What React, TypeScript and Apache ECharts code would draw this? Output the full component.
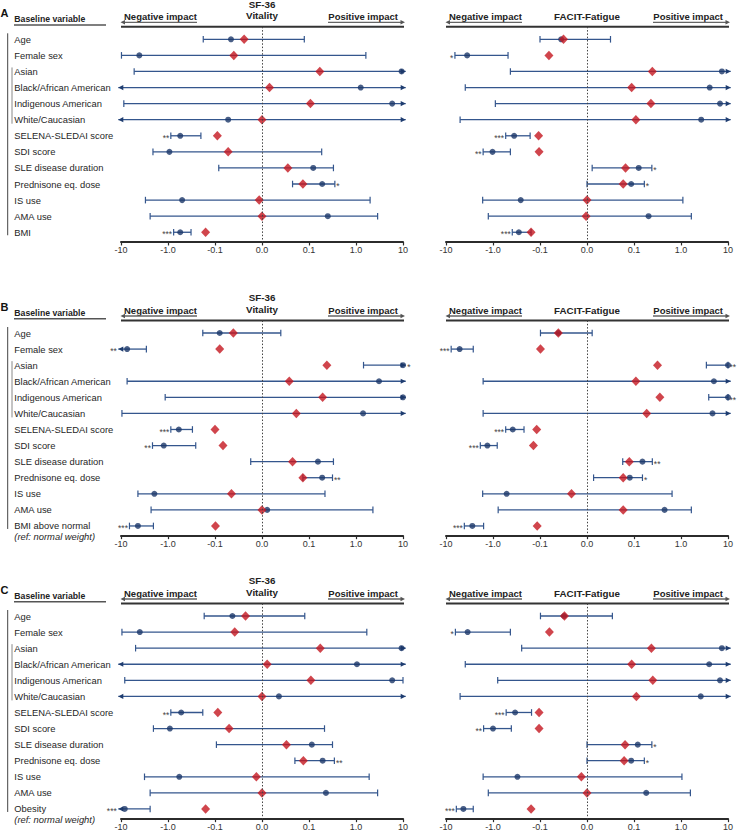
import React, { useEffect, useRef } from "react";
import * as echarts from "echarts";

// ---------- DATA ----------
// x positions are on the chart's symmetric log scale (axis units: -3 = -10, -2 = -1.0, -1 = -0.1, 0 = 0.0, 1 = 0.1, 2 = 1.0, 3 = 10)
// values beyond +/-3 mean the interval runs off the axis (drawn as an arrow)
const tickValues = [-3, -2, -1, 0, 1, 2, 3];
const tickLabels = ["-10", "-1.0", "-0.1", "0.0", "0.1", "1.0", "10"];

const commonVariables = [
  "Age",
  "Female sex",
  "Asian",
  "Black/African American",
  "Indigenous American",
  "White/Caucasian",
  "SELENA-SLEDAI score",
  "SDI score",
  "SLE disease duration",
  "Prednisone eq. dose",
  "IS use",
  "AMA use",
];
const lastVariableA = "BMI";
const lastVariableB = "BMI above normal";
const lastVariableC = "Obesity";
const refNote = "(ref: normal weight)";

// Panel A - SF-36 Vitality
const aVitEst = [-0.66, -2.61, 2.97, 2.10, 2.77, -0.72, -1.74, -1.97, 1.09, 1.28, -1.70, 1.40, -1.74];
const aVitLo = [-1.25, -2.99, -2.72, -3.5, -2.94, -3.5, -1.94, -2.32, -0.92, 0.65, -2.48, -2.38, -1.88];
const aVitHi = [0.90, 2.21, 3.5, 3.5, 3.5, 3.5, -1.30, 1.27, 1.52, 1.55, 2.30, 2.46, -1.51];
const aVitRed = [-0.38, -0.60, 1.23, 0.16, 1.03, 0.0, -0.95, -0.72, 0.55, 0.87, -0.06, 0.0, -1.20];
const aVitSig = ["", "", "", "", "", "", "**", "", "", "*", "", "", "***"];

// Panel A - FACIT-Fatigue
const aFatEst = [-0.55, -2.55, 2.87, 2.61, 2.83, 2.43, -1.55, -2.01, 1.10, 0.94, -1.41, 1.31, -1.45];
const aFatLo = [-1.00, -2.81, -1.63, -2.59, -1.95, -2.70, -1.73, -2.21, 0.11, 0.0, -2.22, -2.10, -1.59];
const aFatHi = [0.50, -1.68, 3.5, 3.5, 3.5, 3.5, -1.21, -1.63, 1.38, 1.22, 2.04, 2.22, -1.19];
const aFatRed = [-0.50, -0.81, 1.39, 0.95, 1.36, 1.04, -1.03, -1.02, 0.82, 0.77, 0.0, -0.02, -1.19];
const aFatSig = ["", "*", "", "", "", "", "***", "**", "*", "*", "", "", "***"];

// Panel B - SF-36 Vitality
const bVitEst = [-0.90, -2.87, 3.0, 2.49, 3.0, 2.15, -1.77, -2.09, 1.19, 1.28, -2.29, 0.11, -2.64];
const bVitLo = [-1.26, -3.5, 2.16, -2.87, -2.06, -2.98, -1.94, -2.33, -0.24, 0.87, -2.64, -2.36, -2.82];
const bVitHi = [0.40, -2.46, 3.5, 3.5, 3.5, 3.5, -1.48, -1.41, 1.52, 1.50, 1.34, 2.36, -2.31];
const bVitRed = [-0.61, -0.90, 1.38, 0.58, 1.29, 0.73, -1.00, -0.83, 0.65, 0.87, -0.65, 0.0, -0.99];
const bVitSig = ["", "**", "*", "", "", "", "***", "**", "", "**", "", "", "***"];

// Panel B - FACIT-Fatigue
const bFatEst = [-0.61, -2.71, 3.0, 2.70, 3.0, 2.67, -1.58, -2.12, 1.18, 0.91, -1.71, 1.65, -2.44];
const bFatLo = [-0.99, -2.89, 2.54, -2.21, 2.59, -2.21, -1.73, -2.27, 0.76, 0.14, -2.22, -1.89, -2.61];
const bFatHi = [0.11, -2.42, 3.0, 3.5, 3.0, 3.5, -1.34, -1.91, 1.39, 1.18, 1.81, 2.22, -2.20];
const bFatRed = [-0.61, -0.99, 1.50, 1.04, 1.55, 1.27, -1.07, -1.14, 0.90, 0.77, -0.33, 0.77, -1.06];
const bFatSig = ["", "***", "**", "", "**", "", "***", "***", "**", "*", "", "", "***"];

// Panel C - SF-36 Vitality
const cVitEst = [-0.63, -2.60, 2.97, 2.02, 2.77, 0.36, -1.72, -1.96, 1.06, 1.29, -1.76, 1.36, -2.92];
const cVitLo = [-1.23, -2.98, -2.69, -3.5, -2.92, -3.5, -1.94, -2.31, -0.97, 0.70, -2.50, -2.38, -3.5];
const cVitHi = [0.91, 2.23, 3.5, 3.5, 3.0, 3.5, -1.26, 1.33, 1.50, 1.54, 2.28, 2.46, -2.38];
const cVitRed = [-0.35, -0.58, 1.24, 0.11, 1.04, 0.0, -0.94, -0.70, 0.52, 0.88, -0.12, 0.0, -1.20];
const cVitSig = ["", "", "", "", "", "", "**", "", "", "**", "", "", "***"];

// Panel C - FACIT-Fatigue
const cFatEst = [-0.49, -2.54, 2.87, 2.60, 2.83, 2.42, -1.53, -2.00, 1.08, 0.94, -1.48, 1.26, -2.63];
const cFatLo = [-0.99, -2.80, -1.39, -2.59, -1.90, -2.70, -1.72, -2.20, 0.0, 0.0, -2.21, -2.10, -2.78];
const cFatHi = [0.54, -1.63, 3.5, 3.5, 3.5, 3.5, -1.18, -1.61, 1.38, 1.22, 2.02, 2.20, -2.42];
const cFatRed = [-0.48, -0.80, 1.37, 0.95, 1.40, 1.05, -1.02, -1.02, 0.81, 0.79, -0.12, 0.0, -1.19];
const cFatSig = ["", "*", "", "", "", "", "***", "**", "*", "*", "", "", "***"];

// ---------- STYLE / LAYOUT ----------
const FONT = '"Liberation Sans", Arial, Helvetica, sans-serif';
const X_MIN = -3;
const X_MAX = 3;
const ROW = 16.08;
const RED = "#c4161f";
const DOT = "#1b3769";
const CI_COLOR = "#34568d";
const ARROW_COLOR = "#1f3d70";
const SIDES = [
  { left: 121, width: 282, titles: ["SF-36", "Vitality"] },
  { left: 446, width: 282, titles: ["FACIT-Fatigue"] },
];

type Set = { est: number[]; lo: number[]; hi: number[]; red: number[]; sig: string[] };
type Panel = { letter: string; y0: number; vars: string[]; note: string; sets: Set[] };

const panels: Panel[] = [
  {
    letter: "A",
    y0: 39.3,
    vars: [...commonVariables, lastVariableA],
    note: "",
    sets: [
      { est: aVitEst, lo: aVitLo, hi: aVitHi, red: aVitRed, sig: aVitSig },
      { est: aFatEst, lo: aFatLo, hi: aFatHi, red: aFatRed, sig: aFatSig },
    ],
  },
  {
    letter: "B",
    y0: 333,
    vars: [...commonVariables, lastVariableB],
    note: refNote,
    sets: [
      { est: bVitEst, lo: bVitLo, hi: bVitHi, red: bVitRed, sig: bVitSig },
      { est: bFatEst, lo: bFatLo, hi: bFatHi, red: bFatRed, sig: bFatSig },
    ],
  },
  {
    letter: "C",
    y0: 616,
    vars: [...commonVariables, lastVariableC],
    note: refNote,
    sets: [
      { est: cVitEst, lo: cVitLo, hi: cVitHi, red: cVitRed, sig: cVitSig },
      { est: cFatEst, lo: cFatLo, hi: cFatHi, red: cFatRed, sig: cFatSig },
    ],
  },
];

function tickLabelFor(v: number): string {
  const i = tickValues.indexOf(Math.round(v));
  return i >= 0 ? tickLabels[i] : "";
}

function textEl(x: number, y: number, text: string, size: number, weight = "normal", align = "left", fill = "#222", style = "normal") {
  return {
    type: "text",
    x,
    y,
    silent: true,
    style: {
      text,
      fontFamily: FONT,
      fontSize: size,
      fontWeight: weight,
      fontStyle: style,
      fill,
      align,
      textAlign: align,
      verticalAlign: "middle",
      textVerticalAlign: "middle",
    },
  };
}
function lineEl(x1: number, y1: number, x2: number, y2: number, stroke: string, lineWidth: number) {
  return { type: "line", silent: true, shape: { x1, y1, x2, y2 }, style: { stroke, lineWidth } };
}
function arrowEl(tipX: number, y: number, dir: number, fill: string) {
  return {
    type: "polygon",
    silent: true,
    shape: { points: [[tipX, y], [tipX - dir * 4.5, y - 2.2], [tipX - dir * 4.5, y + 2.2]] },
    style: { fill },
  };
}

function panelGraphics(p: Panel) {
  const y0 = p.y0;
  const els: any[] = [];
  els.push(textEl(0.5, y0 - 26.5, p.letter, 11, "bold", "left", "#111"));
  els.push(textEl(14.3, y0 - 20.3, "Baseline variable", 8.7, "bold", "left", "#222"));
  els.push(lineEl(14, y0 - 14.3, 106, y0 - 14.3, "#555", 1.5));
  els.push(lineEl(7.7, y0 - 6, 7.7, y0 + 12 * ROW + 3, "#444", 1));
  els.push(lineEl(12, y0 + 2 * ROW - 4, 12, y0 + 5 * ROW + 4, "#888", 1));
  SIDES.forEach((s) => {
    const L = s.left;
    const R = s.left + s.width;
    const C = L + s.width / 2;
    els.push(lineEl(L, y0 - 12.5, R + 1, y0 - 12.5, "#333", 2));
    els.push(textEl(L + 3, y0 - 22.6, "Negative impact", 9.5, "bold", "left", "#222"));
    els.push(lineEl(L + 2, y0 - 17, L + 76, y0 - 17, "#666", 1.3));
    els.push(arrowEl(L - 0.5, y0 - 17, -1, "#555"));
    els.push(textEl(R - 5, y0 - 22.6, "Positive impact", 9.5, "bold", "right", "#222"));
    els.push(lineEl(R - 75, y0 - 17, R, y0 - 17, "#666", 1.3));
    els.push(arrowEl(R + 2, y0 - 17, 1, "#555"));
    if (s.titles.length === 2) {
      els.push(textEl(C, y0 - 35.3, s.titles[0], 9.8, "bold", "center", "#222"));
      els.push(textEl(C, y0 - 23.6, s.titles[1], 9.8, "bold", "center", "#222"));
    } else {
      els.push(textEl(C, y0 - 22.6, s.titles[0], 9.8, "bold", "center", "#222"));
    }
  });
  return els;
}

function makeCIRender(sig: string[]) {
  return (params: any, api: any) => {
    const lo = api.value(0);
    const hi = api.value(1);
    const row = api.value(2);
    const y = api.coord([0, row])[1];
    const xMin = api.coord([X_MIN, row])[0];
    const xMax = api.coord([X_MAX, row])[0];
    const loOut = lo < X_MIN;
    const hiOut = hi > X_MAX;
    const x1 = loOut ? xMin - 2.7 : api.coord([lo, row])[0];
    const x2 = hiOut ? xMax + 2.7 : api.coord([hi, row])[0];
    const children: any[] = [
      { type: "line", shape: { x1, y1: y, x2, y2: y }, style: { stroke: CI_COLOR, lineWidth: 1.3 } },
    ];
    if (loOut) {
      children.push({ type: "polygon", shape: { points: [[x1, y], [x1 + 5, y - 2.6], [x1 + 5, y + 2.6]] }, style: { fill: ARROW_COLOR } });
    } else {
      children.push({ type: "line", shape: { x1, y1: y - 3.3, x2: x1, y2: y + 3.3 }, style: { stroke: CI_COLOR, lineWidth: 1.2 } });
    }
    if (hiOut) {
      children.push({ type: "polygon", shape: { points: [[x2, y], [x2 - 5, y - 2.6], [x2 - 5, y + 2.6]] }, style: { fill: ARROW_COLOR } });
    } else {
      children.push({ type: "line", shape: { x1: x2, y1: y - 3.3, x2, y2: y + 3.3 }, style: { stroke: CI_COLOR, lineWidth: 1.2 } });
    }
    const s = sig[params.dataIndex];
    if (s) {
      const leftSide = (lo + hi) / 2 < 0;
      children.push({
        type: "text",
        x: leftSide ? x1 - 1.5 : x2 + 1.5,
        y: y + 2.2,
        style: {
          text: s,
          fontFamily: FONT,
          fontSize: 8.5,
          fill: "#444",
          align: leftSide ? "right" : "left",
          textAlign: leftSide ? "right" : "left",
          verticalAlign: "middle",
          textVerticalAlign: "middle",
        },
      });
    }
    return { type: "group", children };
  };
}

function buildOption() {
  const grid: any[] = [];
  const xAxis: any[] = [];
  const yAxis: any[] = [];
  const series: any[] = [];
  let graphics: any[] = [];

  panels.forEach((p, pi) => {
    graphics = graphics.concat(panelGraphics(p));
    SIDES.forEach((s, si) => {
      const gi = pi * 2 + si;
      const set = p.sets[si];
      grid.push({ left: s.left, width: s.width, top: p.y0 - 12.5, height: 215.16, containLabel: false });
      xAxis.push({
        type: "value",
        gridIndex: gi,
        min: X_MIN,
        max: X_MAX,
        interval: 1,
        splitLine: { show: false },
        axisLine: { show: true, onZero: false, lineStyle: { color: "#2b2b2b", width: 2 } },
        axisTick: { show: true, length: 3.5, lineStyle: { color: "#2b2b2b", width: 1.2 } },
        axisLabel: {
          show: true,
          formatter: (v: number) => tickLabelFor(v),
          fontSize: 9,
          color: "#333",
          margin: 4,
          fontFamily: FONT,
          showMinLabel: true,
          showMaxLabel: true,
        },
      });
      yAxis.push({
        type: "value",
        gridIndex: gi,
        inverse: true,
        min: -0.7774,
        max: 12.6032,
        show: false,
        splitLine: { show: false },
      });

      if (si === 0) {
        const vars = p.vars;
        const note = p.note;
        series.push({
          type: "custom",
          xAxisIndex: gi,
          yAxisIndex: gi,
          clip: false,
          silent: true,
          encode: { x: 0, y: 1 },
          data: vars.map((_, i) => [0, i]),
          renderItem: (params: any, api: any) => {
            const i = params.dataIndex;
            const y = api.coord([0, api.value(1)])[1];
            const children: any[] = [textEl(14.3, y, vars[i], 9.4, "normal", "left", "#262626")];
            if (i === vars.length - 1 && note) {
              children.push(textEl(14.3, y + 11, note, 9.4, "normal", "left", "#262626", "italic"));
            }
            return { type: "group", children };
          },
        });
      }

      series.push({
        type: "custom",
        xAxisIndex: gi,
        yAxisIndex: gi,
        clip: false,
        silent: true,
        encode: { x: [0, 1], y: 2 },
        data: set.lo.map((l, i) => [l, set.hi[i], i]),
        renderItem: makeCIRender(set.sig),
      });
      series.push({
        type: "scatter",
        xAxisIndex: gi,
        yAxisIndex: gi,
        clip: false,
        silent: true,
        symbol: "circle",
        symbolSize: 6,
        itemStyle: { color: DOT },
        data: set.est.map((v, i) => [v, i]),
        markLine: {
          silent: true,
          symbol: ["none", "none"],
          label: { show: false },
          lineStyle: { type: [1.5, 1.8], color: "#444", width: 1 },
          data: [{ xAxis: 0 }],
        },
      });
      series.push({
        type: "scatter",
        xAxisIndex: gi,
        yAxisIndex: gi,
        clip: false,
        silent: true,
        symbol: "diamond",
        symbolSize: [9, 9.5],
        itemStyle: { color: RED },
        data: set.red.map((v, i) => [v, i]),
      });
    });
  });

  return {
    animation: false,
    backgroundColor: "#ffffff",
    textStyle: { fontFamily: FONT },
    grid,
    xAxis,
    yAxis,
    series,
    graphic: { elements: graphics },
  };
}

export default function App() {
  const ref = useRef<HTMLDivElement | null>(null);
  useEffect(() => {
    if (!ref.current) return;
    const chart = echarts.init(ref.current, null, { renderer: "svg" });
    chart.setOption(buildOption() as any);
    return () => chart.dispose();
  }, []);
  return (
    <div
      ref={ref}
      style={{ position: "fixed", left: 0, top: 0, width: 739, height: 832, background: "#fff" }}
    />
  );
}
